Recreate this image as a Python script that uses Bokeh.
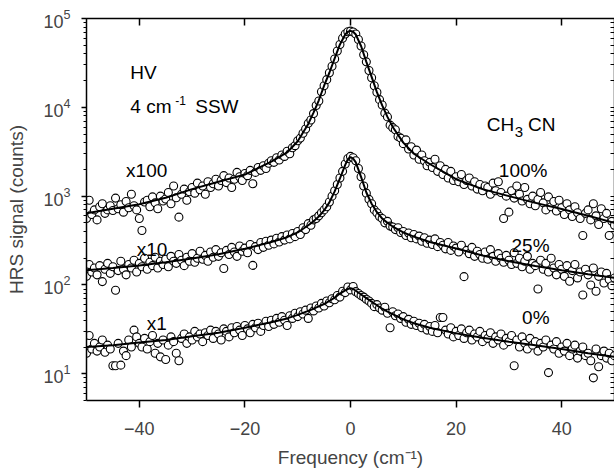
import numpy as np
from bokeh.plotting import figure
from bokeh.models import Range1d, LinearAxis, FixedTicker, Label, ColumnDataSource
from bokeh.embed import file_html
from bokeh.resources import INLINE

# ---------------- data ----------------
# measurement grid of the spectra, 0.5 cm-1 steps from -50 to 50
freq = np.linspace(-50, 50, 201)

# CH3CN 100 %, shown x100
sig_100 = [
    560, 900, 620, 700, 540, 760, 820, 640, 700, 780,
    690, 950, 720, 800, 660, 870, 740, 1050, 780, 700,
    560, 410, 860, 900, 760, 980, 840, 720, 1000, 880,
    930, 1100, 820, 1300, 960, 580, 1050, 1200, 900, 1120,
    1250, 1080, 1400, 1180, 1300, 1050, 1450, 1250, 1380, 1550,
    1300, 1500, 1700, 1420, 1600, 1250, 1550, 1850, 1650, 1500,
    1800, 1700, 1950, 1380, 1850, 2100, 1950, 2200, 2050, 2350,
    2500, 2400, 2700, 2550, 2900, 2800, 3200, 3000, 3500, 3700,
    4200, 4500, 5100, 5700, 6600, 7200, 8500, 10500, 11800, 15000,
    17500, 20500, 24500, 29000, 35000, 43000, 51000, 60000, 67000, 71000,
    72000, 70500, 67000, 58000, 49000, 39000, 32500, 26000, 21500, 17500,
    14800, 12200, 10600, 8600, 7800, 6300, 5900, 5600, 4700, 4500,
    3900, 4300, 3400, 3600, 2900, 3300, 2600, 2900, 2500, 2200,
    2400, 2100, 2600, 1900, 2200, 1750, 2000, 1600, 1900, 1500,
    1650, 1450, 1750, 1350, 1500, 1600, 1300, 1450, 1200, 1350,
    1150, 1300, 1250, 1050, 1400, 1150, 1450, 1100, 560, 1000,
    660, 1150, 950, 1300, 1050, 880, 1250, 920, 820, 1000,
    780, 920, 1100, 840, 700, 980, 760, 870, 680, 900,
    740, 620, 820, 700, 590, 760, 650, 560, 360, 640,
    700, 540, 820, 600, 480, 720, 560, 640, 360, 520,
    470,
]

# CH3CN 25 %, shown x10
sig_25 = [
    125, 170, 140, 155, 130, 165, 109, 150, 175, 135,
    160, 87, 145, 185, 150, 130, 170, 155, 190, 140,
    175, 160, 200, 150, 180, 165, 205, 155, 185, 170,
    195, 160, 210, 185, 175, 220, 190, 165, 205, 185,
    225, 180, 200, 240, 195, 215, 185, 235, 205, 250,
    210, 230, 153, 245, 220, 265, 235, 210, 275, 240,
    260, 230, 285, 166, 270, 250, 300, 265, 310, 280,
    320, 290, 335, 305, 350, 320, 365, 330, 380, 350,
    400, 370, 440, 420, 490, 470, 540, 560, 600, 650,
    700, 760, 860, 1000, 1150, 1350, 1600, 1900, 2300, 2650,
    2800, 2700, 2500, 2050, 1650, 1300, 1080, 920, 820, 700,
    650, 590, 560, 500, 520, 460, 450, 420, 440, 390,
    400, 360, 385, 340, 370, 330, 355, 310, 340, 295,
    320, 285, 330, 270, 300, 280, 255, 300, 245, 275,
    260, 235, 280, 124, 245, 225, 265, 210, 240, 220,
    200, 235, 195, 250, 210, 185, 225, 200, 180, 215,
    190, 170, 230, 175, 200, 160, 185, 210, 150, 175,
    165, 90, 190, 150, 175, 140, 200, 155, 130, 170,
    150, 125, 165, 110, 145, 170, 120, 140, 77, 150,
    130, 100, 155, 85, 125, 140, 105, 135, 115, 98,
    120,
]

# pure water (0 %), shown x1
sig_0 = [
    17, 27, 19, 22, 18, 20, 24, 17.5, 21, 19,
    12.3, 12.3, 22, 12.5, 18, 16, 24, 20, 31, 26,
    22, 20, 25, 19, 23, 27, 17, 22, 15.5, 24,
    14.5, 21, 26, 23, 17, 14, 25, 28, 22, 26,
    24, 30, 26, 28, 23, 29, 27, 31, 25, 30,
    28, 24, 32, 30, 26, 33, 29, 34, 31, 27,
    35, 32, 29, 36, 33, 37, 30, 35, 39, 34,
    40, 36, 42, 38, 44, 40, 35, 45, 42, 48,
    44, 50, 47, 52, 42, 55, 51, 58, 55, 62,
    58, 66, 63, 70, 68, 76, 73, 85, 82, 95,
    88, 96, 84, 80, 76, 73, 69, 66, 62, 57,
    60, 55, 52, 56, 48, 33, 50, 45, 47, 42,
    44, 38, 41, 36, 39, 35, 37, 33, 36, 31,
    34, 30, 35, 29, 43, 43, 31, 28, 33, 26,
    30, 27, 32, 25, 29, 31, 24, 28, 26, 30,
    23, 27, 25, 29, 22, 26, 24, 28, 21, 25,
    23, 27, 12.3, 24, 20, 26, 22, 19, 25, 21,
    23, 18, 22, 20, 24, 10.3, 21, 19, 23, 17,
    20, 18, 22, 16, 19, 21, 15, 18, 20, 16,
    17, 14, 9.0, 19, 12, 16, 18, 15, 17, 14,
    16,
]

# fitted curves
fit_x = [-50, -45, -40, -35, -30, -25, -20, -15, -12, -10, -8, -7, -6, -5, -4, -3, -2, -1, -0.5,
         0, 0.5, 1, 2, 3, 4, 5, 6, 7, 8, 10, 12, 15, 20, 25, 30, 35, 40, 45, 50]
fit_100 = [640, 720, 810, 960, 1200, 1450, 1750, 2450, 3100, 4150, 6500, 8700, 12000, 17500, 24500,
           35500, 51000, 66000, 71000, 72500, 71000, 66000, 49000, 32500, 22000, 14800, 10500, 7800,
           6000, 4000, 3000, 2300, 1550, 1200, 1000, 840, 716, 600, 500]
fit_25 = [146, 155, 166, 180, 198, 222, 255, 305, 345, 390, 470, 520, 590, 690, 850, 1130, 1580,
          2250, 2600, 2750, 2650, 2400, 1650, 1100, 820, 660, 560, 500, 455, 390, 350, 305, 257,
          215, 185, 163, 146, 132, 120]
fit_0 = [20, 21, 22.5, 24, 26.5, 29, 33, 38, 42, 46, 51, 54, 57.5, 61, 66, 72, 80, 87, 90, 92, 90,
         86, 78, 71, 65, 59, 54, 50, 47, 41, 37, 33, 28.5, 25.5, 23, 21, 19, 17, 15.5]

x_ticks = [-40, -20, 0, 20, 40]
y_decades = [10, 100, 1000, 10000, 100000]

# ---------------- figure ----------------
FONT = "Liberation Sans"

p = figure(width=614, height=470,
           x_range=Range1d(-50, 50), y_range=Range1d(5, 1e5),
           y_axis_type="log", output_backend="svg", toolbar_location=None,
           min_border_left=86, min_border_right=0, min_border_top=18, min_border_bottom=67)
p.outline_line_color = None
p.xgrid.visible = False
p.ygrid.visible = False
p.background_fill_color = "white"
p.border_fill_color = "white"

# bottom axis
xa = p.below[0]
xa.ticker = FixedTicker(ticks=x_ticks)
xa.axis_label = "Frequency (cm\u207b\u00b9)"
xa.axis_label_text_font = FONT
xa.axis_label_text_font_size = "19px"
xa.axis_label_text_font_style = "normal"
xa.axis_label_standoff = 9
xa.major_label_text_font = FONT
xa.major_label_text_font_size = "18px"
xa.major_label_standoff = 14
xa.major_tick_out = 7
xa.major_tick_in = 0
xa.minor_tick_line_color = None
xa.axis_line_width = 1.5
xa.major_tick_line_width = 1.5

# left axis
ya = p.left[0]
ya.axis_label = "HRS signal (counts)"
ya.axis_label_text_font = FONT
ya.axis_label_text_font_size = "19px"
ya.axis_label_text_font_style = "normal"
ya.axis_label_standoff = 13
ya.major_label_text_font = FONT
ya.major_label_text_font_size = "18px"
ya.major_label_standoff = 11
ya.major_tick_out = 5
ya.major_tick_in = 0
ya.minor_tick_out = 3
ya.minor_tick_in = 0
ya.axis_line_width = 1.5
ya.major_tick_line_width = 1.5

# mirrored top and right axes: tick marks only (no labels)
top = LinearAxis(ticker=FixedTicker(ticks=[], minor_ticks=x_ticks),
                 minor_tick_in=7, minor_tick_out=0, minor_tick_line_width=1.5,
                 axis_line_width=1.5)
p.add_layout(top, "above")
y_minor = [d * m for d in [1] + y_decades[:-1] for m in range(2, 10)] + y_decades
right = LinearAxis(ticker=FixedTicker(ticks=[], minor_ticks=y_minor),
                   minor_tick_in=4, minor_tick_out=0, minor_tick_line_width=1.2,
                   axis_line_width=1.5)
p.add_layout(right, "right")

# data points
for sig in (sig_100, sig_25, sig_0):
    src = ColumnDataSource(dict(x=freq, y=sig))
    p.scatter("x", "y", source=src, marker="circle", size=8,
              fill_color="white", line_color="black", line_width=1.1)

# fitted curves
for fit in (fit_100, fit_25, fit_0):
    p.line(fit_x, fit, line_color="black", line_width=2)

# annotations
def lab(x, y, text, size="19px", align="left"):
    p.add_layout(Label(x=x, y=y, text=text, text_font=FONT, text_font_size=size,
                       text_align=align, text_baseline="alphabetic", text_color="black"))

lab(-41.7, 24950, "HV")
lab(-41.7, 10140, "4 cm")
lab(-33.2, 11900, "-1", size="12px")
lab(-29.4, 10140, "SSW")
lab(25.8, 6370, "CH")
lab(31.1, 5300, "3", size="15px")
lab(33.6, 6370, "CN")
lab(-34.7, 1950, "x100", align="right")
lab(-34.7, 249, "x10", align="right")
lab(-34.8, 37.2, "x1", align="right")
lab(37.3, 1950, "100%", align="right")
lab(37.7, 276, "25%", align="right")
lab(37.7, 43.4, "0%", align="right")

open("out.html", "w").write(file_html(p, INLINE))
